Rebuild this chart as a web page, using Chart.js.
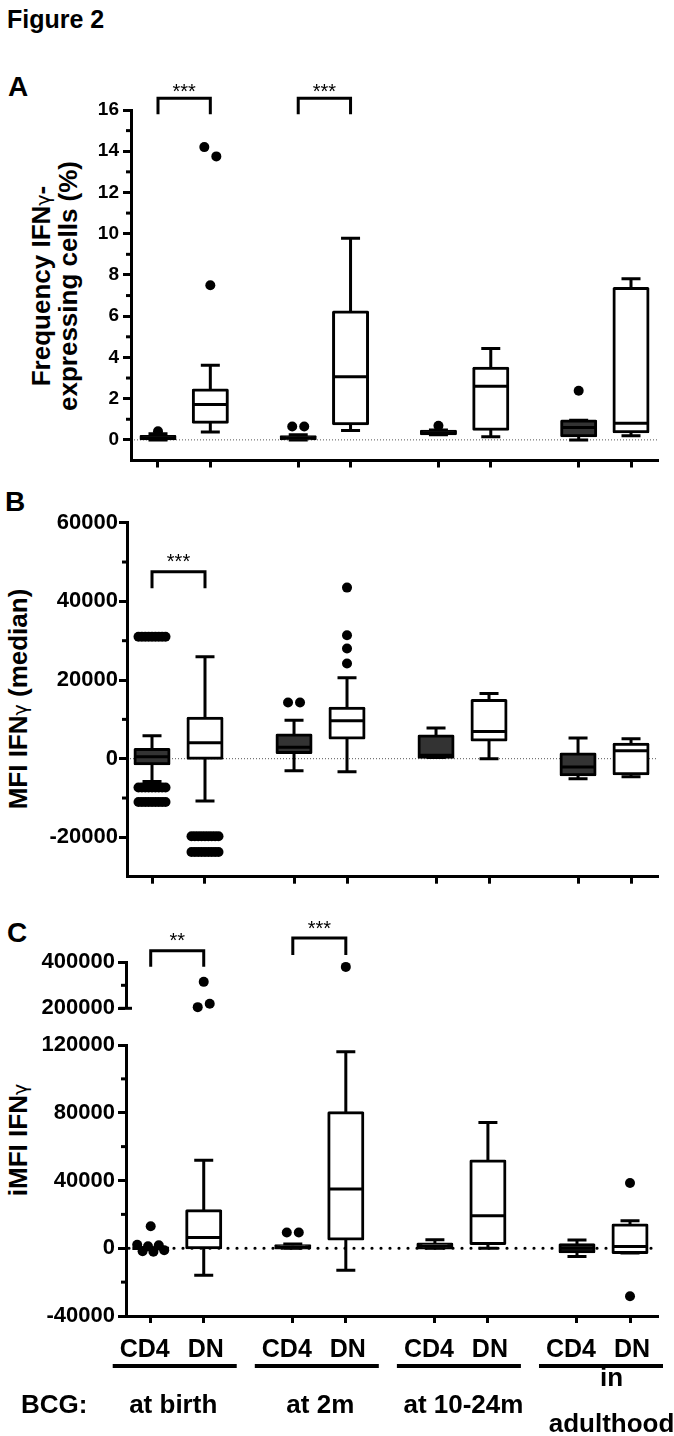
<!DOCTYPE html>
<html>
<head>
<meta charset="utf-8">
<title>Figure 2</title>
<script src="https://cdn.jsdelivr.net/npm/chart.js@4.4.1/dist/chart.umd.min.js"></script>
<style>
  html, body { margin:0; padding:0; background:#fff; }
  body { position:relative; width:674px; height:1436px; overflow:hidden; font-family:"Liberation Sans", Arial, Helvetica, sans-serif; color:#000; }
  canvas { position:absolute; left:0; }
  .lbl { position:absolute; font-weight:bold; white-space:nowrap; line-height:1; }
  .yt { position:absolute; font-weight:bold; font-size:26px; text-align:center; white-space:nowrap; transform:rotate(-90deg); }
  .gam { font-family:"DejaVu Sans", sans-serif; font-weight:normal; font-size:19px; }
</style>
</head>
<body>
<div class="lbl" style="left:7px;top:7px;font-size:25px;">Figure 2</div>
<div class="lbl" style="left:8px;top:73px;font-size:28px;">A</div>
<div class="lbl" style="left:5px;top:488px;font-size:28px;">B</div>
<div class="lbl" style="left:7px;top:919px;font-size:28px;">C</div>
<div class="yt" style="left:-106.5px;top:261px;width:320px;height:50px;line-height:25px;">Frequency IFN<span class="gam">γ</span>-<br>expressing cells (%)</div>
<div class="yt" style="left:-131.7px;top:685.5px;width:300px;height:26px;line-height:26px;">MFI IFN<span class="gam">γ</span> (median)</div>
<div class="yt" style="left:-81.7px;top:1127px;width:200px;height:26px;line-height:26px;">iMFI IFN<span class="gam">γ</span></div>

<canvas id="cA"></canvas>
<canvas id="cB"></canvas>
<canvas id="cCu"></canvas>
<canvas id="cCl"></canvas>

<script>
// ===================== DATA =====================
const groups = ['at birth', 'at 2m', 'at 10-24m', 'in\nadulthood'];
const cellTypes = ['CD4', 'DN'];
const rowLabel = 'BCG:';

// Panel A: Frequency IFNγ-expressing cells (%)
const aTicks = [0, 2, 4, 6, 8, 10, 12, 14, 16];
const aMinor = [1, 3, 5, 7, 9, 11, 13, 15];
const aMin = [0,    0.38, 0,    0.45, 0.25, 0.15, 0,    0.2];
const aQ1  = [0.05, 0.85, 0.05, 0.78, 0.3,  0.52, 0.2,  0.4];
const aMed = [0.1,  1.72, 0.1,  3.06, 0.35, 2.6,  0.6,  0.81];
const aQ3  = [0.17, 2.42, 0.15, 6.2,  0.42, 3.47, 0.92, 7.34];
const aMax = [0.3,  3.62, 0.25, 9.78, 0.48, 4.43, 0.95, 7.82];
const aOut = [[0.42], [14.2, 13.75, 7.5], [0.65, 0.65], [], [0.68], [], [2.38], []];
const aSig = [{ group: 0, label: '***' }, { group: 1, label: '***' }];

// Panel B: MFI IFNγ (median)
const bTicks = [-20000, 0, 20000, 40000, 60000];
const bMinor = [-10000, 10000, 30000, 50000];
const bMin = [-5800, -10750, -3050, -3300, 300,  0,     -5100, -4600];
const bQ1  = [-1300, 0,      1550,  5250,  400,  4750,  -4100, -3800];
const bMed = [500,   4050,   2900,  9650,  900,  6900,  -2100, 2000];
const bQ3  = [2350,  10300,  6000,  12800, 5800, 14800, 1200,  3700];
const bMax = [5850,  25900,  9800,  20600, 7800, 16600, 5250,  5100];
const bOut = [
  [31000, 31000, 31000, 31000, 31000, 31000, 31000, 31000, 31000,
   -7300, -7300, -7300, -7300, -7300, -7300, -7300, -7300, -7300,
   -11000, -11000, -11000, -11000, -11000, -11000, -11000, -11000, -11000],
  [-19700, -19700, -19700, -19700, -19700, -19700, -19700, -19700, -19700,
   -23700, -23700, -23700, -23700, -23700, -23700, -23700, -23700, -23700],
  [14300, 14300],
  [43500, 31400, 28000, 24200],
  [], [], [], []
];
const bSig = [{ group: 0, label: '***' }];

// Panel C: iMFI IFNγ (broken axis)
const cTicksLow = [-40000, 0, 40000, 80000, 120000];
const cMinorLow = [-20000, 20000, 60000, 100000];
const cTicksHigh = [200000, 400000];
const cMinorHigh = [300000];
const cMin = [-300, -16000, 0,    -13000, 0,    0,     -4800, -2800];
const cQ1  = [-100, 0,      200,  5500,   200,  2800,  -2000, -2500];
const cMed = [0,    6300,   600,  35000,  1200, 19200, 0,     1000];
const cQ3  = [100,  22100,  1500, 80000,  2500, 51500, 2000,  13800];
const cMax = [300,  52000,  2500, 116000, 5000, 74300, 4800,  16200];
const cOut = [
  [13000, 2000, -1700, 1200, -2000, 1700, -1200],
  [315000, 205000, 220000],
  [9300, 9300],
  [380000],
  [], [], [],
  [38500, -28300]
];
const cSig = [{ group: 0, label: '**' }, { group: 1, label: '***' }];

// ===================== LAYOUT / STYLE =====================
const FONT = '"Liberation Sans", Arial, Helvetica, sans-serif';
const W = 674;
const POS = [0, 1, 2.68, 3.68, 5.36, 6.36, 8.04, 9.04];   // x slots of the 8 boxes
const GROUP_LABEL_SHIFT = [-4, 1, 2, 8];                  // px nudge of group captions
const CD4_FILL = '#333333', DN_FILL = '#ffffff';

const LA = { top: 40, height: 450, area: { left: 131, right: 658, top: 110, bottom: 460.5 },
  x: [-0.516, 9.556], y: [-1, 16], ticks: aTicks, minor: aMinor, tickFont: 19, tickPad: 4, xAxis: true };
const LB = { top: 490, height: 410, area: { left: 127, right: 658, top: 522.7, bottom: 876.7 },
  x: [-0.472, 9.549], y: [-30000, 60000], ticks: bTicks, minor: bMinor, tickFont: 22, tickPad: 1, xAxis: true };
const LCu = { top: 900, height: 130, area: { left: 126, right: 658, top: 962.3, bottom: 1008.3 },
  x: [-0.466, 9.568], y: [200000, 400000], ticks: cTicksHigh, minor: cMinorHigh, tickFont: 22, tickPad: 3, xAxis: false };
const LCl = { top: 1020, height: 416, area: { left: 126, right: 658, top: 1045, bottom: 1316 },
  x: [-0.466, 9.568], y: [-40000, 120000], ticks: cTicksLow, minor: cMinorLow, tickFont: 22, tickPad: 3, xAxis: true };

const FIGS = {};

function boxData(mn, q1, md, q3, mx) {
  return POS.map((p, i) => ({ x: p, y: [q1[i], q3[i]], lo: mn[i], med: md[i], hi: mx[i] }));
}

// spread overlapping outliers sideways (pixel layout only, values untouched)
function outlierData(out, L, keep) {
  const pxX = (L.area.right - L.area.left) / (L.x[1] - L.x[0]);
  const pxY = (L.area.bottom - L.area.top) / (L.y[1] - L.y[0]);
  const pts = [];
  out.forEach((vals, i) => {
    const v = vals.filter(keep);
    const used = new Array(v.length).fill(false);
    for (let k = 0; k < v.length; k++) {
      if (used[k]) continue;
      const cl = [];
      for (let j = k; j < v.length; j++) {
        if (!used[j] && Math.abs(v[k] - v[j]) * pxY < 10) { cl.push(v[j]); used[j] = true; }
      }
      const n = cl.length;
      const s = n > 1 ? Math.min(12, 27 / (n - 1)) : 0;
      cl.forEach((val, m) => pts.push({ x: POS[i] + (m - (n - 1) / 2) * s / pxX, y: val }));
    }
  });
  return pts;
}

function boxDataset(data) {
  return {
    type: 'bar', isBox: true, data, order: 2,
    backgroundColor: POS.map((p, i) => (i % 2 === 0 ? CD4_FILL : DN_FILL)),
    borderColor: '#000', borderWidth: 3, borderSkipped: false, borderRadius: 1.5,
    inflateAmount: 1.5, barThickness: 34
  };
}
function outlierDataset(data) {
  return {
    type: 'scatter', data, order: 1, showLine: false, clip: false,
    pointRadius: 5, pointBackgroundColor: '#000', pointBorderWidth: 0, pointBorderColor: '#000'
  };
}

const figPlugin = {
  id: 'figure',
  beforeDatasetsDraw(chart) {
    const f = FIGS[chart.canvas.id]; if (!f) return;
    const ctx = chart.ctx, y = chart.scales.y, ca = chart.chartArea;
    if (f.zero) {
      const py = y.getPixelForValue(0);
      ctx.save();
      ctx.beginPath();
      ctx.setLineDash(f.zero.dash);
      ctx.lineWidth = f.zero.width; ctx.strokeStyle = f.zero.color; ctx.lineCap = f.zero.cap || 'butt';
      ctx.moveTo(ca.left + 3, py); ctx.lineTo(ca.right, py); ctx.stroke();
      ctx.restore();
    }
    chart.data.datasets.forEach((ds, di) => {
      if (!ds.isBox) return;
      const meta = chart.getDatasetMeta(di);
      ctx.save();
      ctx.strokeStyle = '#000'; ctx.lineWidth = 3; ctx.lineCap = 'butt';
      meta.data.forEach((el, i) => {
        const r = ds.data[i];
        const px = el.x;
        const yq1 = y.getPixelForValue(r.y[0]), yq3 = y.getPixelForValue(r.y[1]);
        const ylo = y.getPixelForValue(r.lo), yhi = y.getPixelForValue(r.hi);
        ctx.beginPath();
        ctx.moveTo(px, yq3); ctx.lineTo(px, yhi);
        ctx.moveTo(px, yq1); ctx.lineTo(px, ylo);
        ctx.moveTo(px - 9.5, yhi); ctx.lineTo(px + 9.5, yhi);
        ctx.moveTo(px - 9.5, ylo); ctx.lineTo(px + 9.5, ylo);
        ctx.stroke();
      });
      ctx.restore();
    });
  },
  afterDatasetsDraw(chart) {
    const f = FIGS[chart.canvas.id]; if (!f) return;
    const ctx = chart.ctx, y = chart.scales.y;
    chart.data.datasets.forEach((ds, di) => {
      if (!ds.isBox) return;
      const meta = chart.getDatasetMeta(di);
      ctx.save();
      ctx.strokeStyle = '#000'; ctx.lineWidth = 3;
      meta.data.forEach((el, i) => {
        const pm = y.getPixelForValue(ds.data[i].med);
        ctx.beginPath(); ctx.moveTo(el.x - 17, pm); ctx.lineTo(el.x + 17, pm); ctx.stroke();
      });
      ctx.restore();
    });
  },
  afterDraw(chart) {
    const f = FIGS[chart.canvas.id]; if (!f) return;
    const L = f.L, t = L.top;
    const ctx = chart.ctx, x = chart.scales.x, y = chart.scales.y, ca = chart.chartArea;
    ctx.save();
    ctx.strokeStyle = '#000'; ctx.fillStyle = '#000'; ctx.lineWidth = 3; ctx.lineCap = 'butt';
    L.minor.forEach(v => {
      const py = y.getPixelForValue(v);
      ctx.beginPath(); ctx.moveTo(ca.left - 5, py); ctx.lineTo(ca.left, py); ctx.stroke();
    });
    if (f.breakMark) {
      const py = y.getPixelForValue(L.y[0]);
      ctx.beginPath(); ctx.moveTo(ca.left - 7, py); ctx.lineTo(ca.left + 6, py); ctx.stroke();
    }
    (f.sig || []).forEach((s, k) => {
      const b = f.brackets[k];
      const x1 = x.getPixelForValue(POS[s.group * 2]);
      const x2 = x.getPixelForValue(POS[s.group * 2 + 1]);
      ctx.lineJoin = 'miter';
      ctx.beginPath();
      ctx.moveTo(x1, b.leg - t); ctx.lineTo(x1, b.top - t); ctx.lineTo(x2, b.top - t); ctx.lineTo(x2, b.leg - t);
      ctx.stroke();
      ctx.font = '20px ' + FONT; ctx.textAlign = 'center'; ctx.textBaseline = 'alphabetic';
      ctx.fillText(s.label, (x1 + x2) / 2, b.star - t + 11.6);
    });
    if (f.bottom) {
      ctx.font = 'bold 25px ' + FONT; ctx.textAlign = 'center'; ctx.textBaseline = 'alphabetic';
      POS.forEach((p, i) => {
        const cx = x.getPixelForValue(p) + (i % 2 === 0 ? -6 : 2);
        ctx.fillText(cellTypes[i % 2], cx, 1356.7 - t);
      });
      ctx.lineWidth = 4;
      ctx.font = 'bold 26px ' + FONT;
      groups.forEach((g, gi) => {
        const xa = x.getPixelForValue(POS[gi * 2]), xb = x.getPixelForValue(POS[gi * 2 + 1]);
        ctx.beginPath(); ctx.moveTo(xa - 38, 1366 - t); ctx.lineTo(xb + 33, 1366 - t); ctx.stroke();
        const cx = (xa + xb) / 2 + GROUP_LABEL_SHIFT[gi];
        const lines = g.split('\n');
        if (lines.length === 1) ctx.fillText(lines[0], cx, 1412.5 - t);
        else { ctx.fillText(lines[0], cx, 1386 - t); ctx.fillText(lines[1], cx, 1432 - t); }
      });
      ctx.textAlign = 'left';
      ctx.fillText(rowLabel, 21, 1412.5 - t);
    }
    ctx.restore();
  }
};

function makeChart(id, L, datasets, fig) {
  const cv = document.getElementById(id);
  cv.width = W; cv.height = L.height;
  cv.style.top = L.top + 'px'; cv.style.width = W + 'px'; cv.style.height = L.height + 'px';
  fig.L = L;
  FIGS[id] = fig;
  const xH = L.xAxis ? 10 : 0;
  return new Chart(cv, {
    type: 'bar',
    data: { datasets },
    options: {
      responsive: false, animation: false, devicePixelRatio: 1, events: [],
      layout: { padding: { left: 0, right: W - L.area.right, top: L.area.top - L.top,
                           bottom: L.height - (L.area.bottom - L.top) - xH } },
      plugins: { legend: { display: false }, tooltip: { enabled: false } },
      scales: {
        x: {
          type: 'linear', display: L.xAxis, min: L.x[0], max: L.x[1], offset: false,
          afterBuildTicks: s => { s.ticks = POS.map(v => ({ value: v })); },
          afterFit: s => { s.height = xH; },
          ticks: { display: false },
          grid: { offset: false, drawOnChartArea: false, drawTicks: true, tickLength: 7, tickWidth: 3, tickColor: '#000', color: '#000' },
          border: { display: true, color: '#000', width: 3 }
        },
        y: {
          type: 'linear', min: L.y[0], max: L.y[1],
          afterBuildTicks: s => { s.ticks = L.ticks.map(v => ({ value: v })); },
          afterFit: s => { s.width = L.area.left; },
          ticks: { autoSkip: false, padding: L.tickPad, color: '#000',
                   font: { family: FONT, size: L.tickFont, weight: 'bold' }, callback: v => String(v) },
          grid: { offset: false, drawOnChartArea: false, drawTicks: true, tickLength: 8, tickWidth: 3, tickColor: '#000', color: '#000' },
          border: { display: true, color: '#000', width: 3 }
        }
      }
    },
    plugins: [figPlugin]
  });
}

const fineZero = { dash: [1, 2], width: 1, color: '#555' };
const boldZero = { dash: [0, 9], width: 3.2, color: '#000', cap: 'round' };

makeChart('cA', LA,
  [outlierDataset(outlierData(aOut, LA, () => true)), boxDataset(boxData(aMin, aQ1, aMed, aQ3, aMax))],
  { zero: fineZero, sig: aSig, brackets: [{ top: 98.3, leg: 114.3, star: 86.7 }, { top: 98.3, leg: 114.3, star: 86.7 }] });

makeChart('cB', LB,
  [outlierDataset(outlierData(bOut, LB, () => true)), boxDataset(boxData(bMin, bQ1, bMed, bQ3, bMax))],
  { zero: fineZero, sig: bSig, brackets: [{ top: 571.7, leg: 588.3, star: 556.7 }] });

makeChart('cCu', LCu,
  [outlierDataset(outlierData(cOut, LCu, v => v >= 160000))],
  { breakMark: true, sig: cSig, brackets: [{ top: 950.7, leg: 966.7, star: 935 }, { top: 938, leg: 955, star: 923 }] });

makeChart('cCl', LCl,
  [outlierDataset(outlierData(cOut, LCl, v => v <= 130000)), boxDataset(boxData(cMin, cQ1, cMed, cQ3, cMax))],
  { zero: boldZero, bottom: true });
</script>
</body>
</html>
